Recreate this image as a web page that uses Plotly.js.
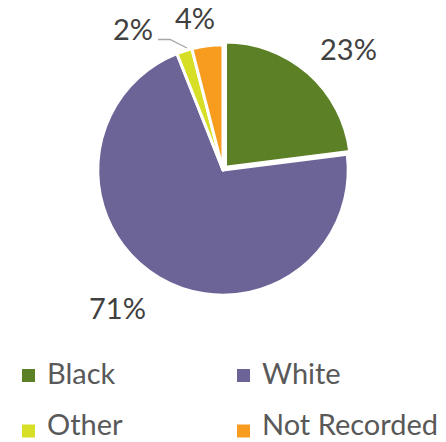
<!DOCTYPE html>
<html><head><meta charset="utf-8">
<script src="https://cdn.plot.ly/plotly-3.0.1.min.js"></script>
<style>html,body{margin:0;padding:0;background:#fff}</style>
</head><body>
<div id="chart" style="width:446px;height:442px"></div>
<script>
const categories = ["Black", "White", "Other", "Not Recorded"];
const values = [23, 71, 2, 4];
const colors = ["#5B8025", "#6C6497", "#D6DF25", "#F79C1F"];

// label anchor positions (pixels) for the percent labels
const labelPos = [[348, 48], [117, 307], [133, 29], [195, 17]];

const W = 446, H = 442;
const M = {l: 94, r: 94, t: 41, b: 143};
const pw = W - M.l - M.r, ph = H - M.t - M.b;
const px = x => (x - M.l) / pw;
const py = y => 1 - (y - M.t) / ph;

const total = values.reduce((a, b) => a + b, 0);
const font = "Lato, 'Open Sans', sans-serif";

const trace = {
  type: "pie",
  labels: categories,
  values: values,
  sort: false,
  direction: "clockwise",
  rotation: 0,
  marker: {colors: colors, line: {color: "#ffffff", width: 3}},
  pull: [0.03, 0, 0, 0],
  textinfo: "none",
  hoverinfo: "none",
  showlegend: false,
  domain: {x: [0, 1], y: [0, 1]}
};

const annotations = [];
const shapes = [];
categories.forEach((c, i) => {
  annotations.push({
    xref: "paper", yref: "paper", x: px(labelPos[i][0]), y: py(labelPos[i][1]),
    xanchor: "center", yanchor: "middle", showarrow: false,
    text: Math.round(values[i] / total * 100) + "%",
    font: {family: font, size: 29, color: "#404040"}
  });
});
// leader line for the small "Other" label
shapes.push({
  type: "path", xref: "paper", yref: "paper",
  path: `M ${px(158)} ${py(39.5)} L ${px(170)} ${py(39.5)} L ${px(187)} ${py(48)}`,
  line: {color: "#A6A6A6", width: 1.3}
});
// legend: two columns, two rows (text box bottoms in pixels)
const legX = [22, 237], legMarkY = [375.5, 431], legTextBottom = [391, 442];
categories.forEach((c, i) => {
  const col = i % 2, row = Math.floor(i / 2);
  const x0 = legX[col], yc = legMarkY[row];
  shapes.push({
    type: "rect", xref: "paper", yref: "paper",
    x0: px(x0), x1: px(x0 + 13), y0: py(yc - 6.5), y1: py(yc + 6.5),
    fillcolor: colors[i], line: {width: 0}
  });
  annotations.push({
    xref: "paper", yref: "paper", x: px(x0 + 24), y: py(legTextBottom[row]),
    xanchor: "left", yanchor: "bottom", showarrow: false, borderpad: 0,
    text: c, font: {family: font, size: 29, color: "#595959"}
  });
});

const layout = {
  width: W, height: H,
  margin: M,
  paper_bgcolor: "#ffffff",
  showlegend: false,
  annotations: annotations,
  shapes: shapes
};
Plotly.newPlot("chart", [trace], layout, {staticPlot: true});
</script>
</body></html>
